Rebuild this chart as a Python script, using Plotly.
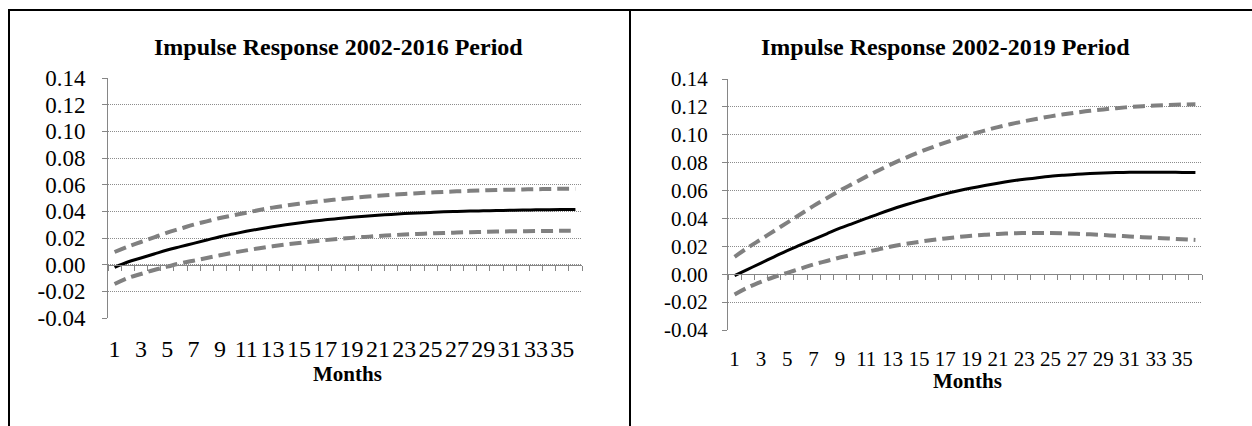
import plotly.graph_objects as go

# Impulse responses over a 36-month horizon with upper/lower confidence bands
months = list(range(1, 37))

resp_2016 = [-0.002, 0.002, 0.005, 0.008, 0.011, 0.0135, 0.016, 0.0185, 0.021, 0.023,
             0.025, 0.0268, 0.0285, 0.030, 0.0313, 0.0325, 0.0337, 0.0347, 0.0356, 0.0364,
             0.0371, 0.0377, 0.0383, 0.0388, 0.0392, 0.0396, 0.0399, 0.0402, 0.0404, 0.0406,
             0.0408, 0.0410, 0.0411, 0.0412, 0.0413, 0.0414]
upper_2016 = [0.0095, 0.0135, 0.017, 0.0205, 0.024, 0.027, 0.030, 0.0325, 0.035, 0.037,
              0.039, 0.041, 0.0428, 0.0443, 0.0457, 0.0469, 0.048, 0.049, 0.050, 0.0509,
              0.0517, 0.0524, 0.053, 0.0536, 0.0541, 0.0546, 0.055, 0.0554, 0.0557, 0.056,
              0.0562, 0.0564, 0.0566, 0.0568, 0.0569, 0.057]
lower_2016 = [-0.0145, -0.010, -0.007, -0.004, -0.0015, 0.001, 0.003, 0.005, 0.007, 0.009,
              0.0107, 0.0123, 0.0138, 0.0151, 0.0163, 0.0174, 0.0184, 0.0193, 0.0201, 0.0208,
              0.0215, 0.0221, 0.0226, 0.023, 0.0234, 0.0238, 0.0241, 0.0244, 0.0246, 0.0248,
              0.025, 0.0251, 0.0252, 0.0253, 0.0254, 0.0255]

resp_2019 = [-0.001, 0.0035, 0.008, 0.0125, 0.017, 0.021, 0.025, 0.029, 0.033, 0.0365,
             0.040, 0.0435, 0.0468, 0.0498, 0.0526, 0.0552, 0.0576, 0.0598, 0.0618, 0.0636,
             0.0653, 0.0668, 0.0681, 0.0692, 0.0702, 0.071, 0.0717, 0.0722, 0.0726, 0.0729,
             0.0731, 0.0732, 0.0732, 0.0731, 0.073, 0.0729]
upper_2019 = [0.0125, 0.019, 0.025, 0.031, 0.037, 0.043, 0.049, 0.0545, 0.060, 0.065,
              0.070, 0.0748, 0.0793, 0.0835, 0.0874, 0.091, 0.0944, 0.0975, 0.1004, 0.103,
              0.1055, 0.1077, 0.1097, 0.1115, 0.1132, 0.1147, 0.116, 0.1172, 0.1182, 0.1191,
              0.1199, 0.1205, 0.121, 0.1214, 0.1217, 0.1219]
lower_2019 = [-0.0145, -0.0095, -0.0055, -0.002, 0.001, 0.004, 0.007, 0.0095, 0.012, 0.014,
              0.016, 0.018, 0.020, 0.0217, 0.0232, 0.0245, 0.0257, 0.0267, 0.0276, 0.0283,
              0.0289, 0.0293, 0.0295, 0.0296, 0.0295, 0.0293, 0.029, 0.0286, 0.0281, 0.0276,
              0.0271, 0.0266, 0.0261, 0.0256, 0.0251, 0.0246]

y_ticks = [-0.04, -0.02, 0.00, 0.02, 0.04, 0.06, 0.08, 0.10, 0.12, 0.14]
y_tick_text = ["-0.04", "-0.02", "0.00", "0.02", "0.04", "0.06", "0.08", "0.10", "0.12", "0.14"]
x_ticks = list(range(1, 37, 2))
x_tick_text = [str(m) for m in x_ticks]
titles = ["Impulse Response 2002-2016 Period", "Impulse Response 2002-2019 Period"]
x_title = "Months"

W, H = 1252, 426
FONT = "Liberation Serif"
Y_RANGE = [-0.04, 0.14]
BAND = "#808080"
AXIS = "#868686"


def px_x(p):
    return p / W


def px_y(p):
    return (H - p) / H


panels = [
    dict(resp=resp_2016, up=upper_2016, lo=lower_2016, title=titles[0],
         xdom=[px_x(108), px_x(582)], ydom=[px_y(318), px_y(78)], fs=23, xfs=24,
         ystand=12, title_xy=(338, 47), xt_xy=(347, 374)),
    dict(resp=resp_2019, up=upper_2019, lo=lower_2019, title=titles[1],
         xdom=[px_x(728), px_x(1202)], ydom=[px_y(330), px_y(79)], fs=21, xfs=21,
         ystand=10, title_xy=(945, 47), xt_xy=(967, 381)),
]

fig = go.Figure()
layout = dict(
    width=W, height=H,
    margin=dict(l=0, r=0, t=0, b=0, pad=0, autoexpand=False),
    paper_bgcolor="white", plot_bgcolor="white", showlegend=False,
    font=dict(family=FONT, color="black"),
)
annotations = []
shapes = []

for i, p in enumerate(panels):
    n = i + 1
    xa = "x" if n == 1 else f"x{n}"
    ya = "y" if n == 1 else f"y{n}"
    zero_ax = f"x{n + 2}"
    for series, color, dash, width in [(p["up"], BAND, "12px,6px", 4),
                                       (p["lo"], BAND, "12px,6px", 4),
                                       (p["resp"], "black", "solid", 3)]:
        fig.add_trace(go.Scatter(x=months, y=series, xaxis=xa, yaxis=ya, mode="lines",
                                 line=dict(color=color, width=width, dash=dash, shape="spline"),
                                 hoverinfo="skip"))
    # invisible trace so the zero-level category axis is drawn
    fig.add_trace(go.Scatter(x=[1], y=[0], xaxis=zero_ax, yaxis=ya,
                             mode="markers", marker=dict(opacity=0), hoverinfo="skip"))

    ydom = p["ydom"]
    zero_pos = ydom[0] + (0 - Y_RANGE[0]) / (Y_RANGE[1] - Y_RANGE[0]) * (ydom[1] - ydom[0])

    layout[f"xaxis{'' if n == 1 else n}"] = dict(
        domain=p["xdom"], anchor=ya, range=[0.5, 36.5],
        tickmode="array", tickvals=x_ticks, ticktext=x_tick_text,
        ticks="", showline=False, showgrid=False, zeroline=False,
        tickfont=dict(family=FONT, size=p["xfs"], color="black"),
        ticklabelstandoff=14, automargin=False,
    )
    layout[f"xaxis{n + 2}"] = dict(
        overlaying=xa, anchor="free", position=zero_pos, range=[0.5, 36.5],
        tickmode="array", tickvals=[k + 0.5 for k in range(0, 37)],
        ticks="outside", ticklen=5, tickcolor=AXIS, tickwidth=1,
        showticklabels=False, showline=True, linecolor=AXIS, linewidth=1,
        showgrid=False, zeroline=False, automargin=False,
    )
    layout[f"yaxis{'' if n == 1 else n}"] = dict(
        domain=ydom, anchor=xa, range=Y_RANGE,
        tickmode="array", tickvals=y_ticks, ticktext=y_tick_text,
        ticks="outside", ticklen=5, tickcolor=AXIS, tickwidth=1,
        showline=True, linecolor=AXIS, linewidth=1,
        showgrid=True, gridcolor="#8c8c8c", gridwidth=1, griddash="1px,1px",
        zeroline=False, automargin=False,
        tickfont=dict(family=FONT, size=p["fs"], color="black"),
        ticklabelstandoff=p["ystand"],
    )
    tx, ty = p["title_xy"]
    annotations.append(dict(text=f"<b>{p['title']}</b>", x=px_x(tx), y=px_y(ty),
                            xref="paper", yref="paper", xanchor="center", yanchor="middle",
                            showarrow=False, font=dict(family=FONT, size=24, color="black")))
    mx, my = p["xt_xy"]
    annotations.append(dict(text=f"<b>{x_title}</b>", x=px_x(mx), y=px_y(my),
                            xref="paper", yref="paper", xanchor="center", yanchor="middle",
                            showarrow=False, font=dict(family=FONT, size=21, color="black")))

# frame around the two panels
frame = dict(color="black", width=2)
shapes.append(dict(type="line", xref="paper", yref="paper",
                   x0=px_x(8), x1=1, y0=px_y(10), y1=px_y(10), line=frame))
shapes.append(dict(type="line", xref="paper", yref="paper",
                   x0=px_x(9), x1=px_x(9), y0=px_y(10), y1=0, line=frame))
shapes.append(dict(type="line", xref="paper", yref="paper",
                   x0=px_x(630), x1=px_x(630), y0=px_y(10), y1=0, line=frame))

layout["annotations"] = annotations
layout["shapes"] = shapes
fig.update_layout(**layout)

fig.write_html("out.html")
